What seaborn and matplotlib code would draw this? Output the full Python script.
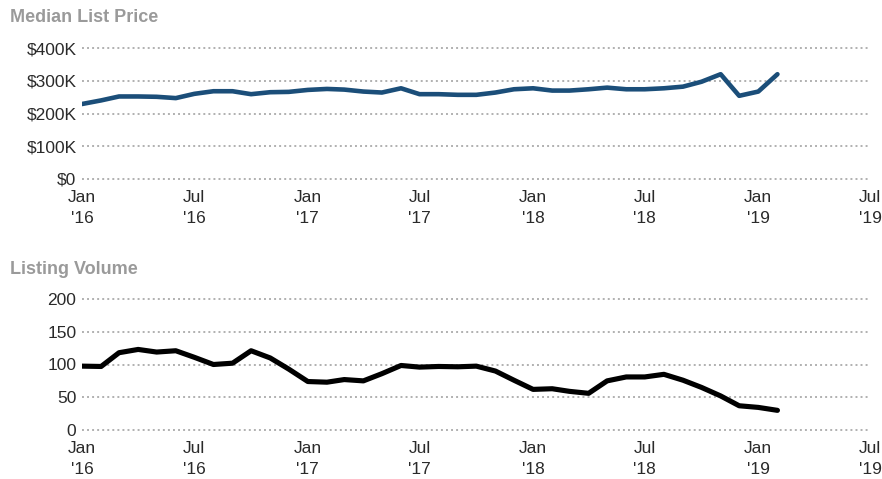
import matplotlib
matplotlib.use("Agg")
import matplotlib.pyplot as plt
import seaborn as sns
import pandas as pd

sns.set_style("white")
plt.rcParams['font.family'] = ['Liberation Sans', 'DejaVu Sans']

months = pd.date_range("2016-01-01", "2019-02-01", freq="MS")

median_list_price = [229, 240, 252, 252, 251, 247, 260, 268, 268, 259, 265, 266,
                     272, 275, 273, 267, 264, 277, 259, 259, 257, 257, 264, 274,
                     277, 270, 270, 274, 279, 274, 274, 277, 282, 297, 320, 254,
                     267, 320]  # thousands of dollars

listing_volume = [97.5, 97, 118, 123, 119, 121, 111, 100, 102, 121, 110, 93,
                  74, 73, 77, 75, 86, 98.5, 96, 97, 96.5, 97.5, 90, 76,
                  62, 63, 59, 56, 75, 81, 81, 85, 76, 65, 52, 37, 34.5, 30]

price_ticks = [0, 100, 200, 300, 400]
price_labels = ["$0", "$100K", "$200K", "$300K", "$400K"]
volume_ticks = [0, 50, 100, 150, 200]
x_tick_dates = pd.to_datetime(["2016-01-01", "2016-07-01", "2017-01-01", "2017-07-01",
                               "2018-01-01", "2018-07-01", "2019-01-01", "2019-07-01"])
x_tick_labels = ["Jan\n'16", "Jul\n'16", "Jan\n'17", "Jul\n'17",
                 "Jan\n'18", "Jul\n'18", "Jan\n'19", "Jul\n'19"]

df = pd.DataFrame({"month": months,
                   "price": median_list_price,
                   "volume": listing_volume})

fig = plt.figure(figsize=(8.82, 4.79), dpi=100)
ax1 = fig.add_axes([82/882, 1-179/479, (870-82)/882, 131/479])
ax2 = fig.add_axes([82/882, 1-430/479, (870-82)/882, 131/479])

tick_color = "#2a2a2a"
grid_color = "#b0b0b0"

sns.lineplot(data=df, x="month", y="price", ax=ax1, color="#1b4e79", linewidth=3.3)
sns.lineplot(data=df, x="month", y="volume", ax=ax2, color="#000000", linewidth=3.7)

for ax, ticks, labels, ymax in [(ax1, price_ticks, price_labels, 400),
                                (ax2, volume_ticks, [str(v) for v in volume_ticks], 200)]:
    ax.set_xlim(pd.Timestamp("2016-01-01"), pd.Timestamp("2019-07-01"))
    ax.set_ylim(0, ymax)
    ax.set_yticks(ticks)
    ax.set_yticklabels(labels)
    ax.set_xticks(x_tick_dates)
    ax.set_xticklabels(x_tick_labels, linespacing=1.45)
    ax.set_xlabel("")
    ax.set_ylabel("")
    for s in ax.spines.values():
        s.set_visible(False)
    ax.grid(axis="y", color=grid_color, linestyle=(0, (1, 1.6)), linewidth=1.4)
    ax.grid(axis="x", visible=False)
    ax.set_axisbelow(True)
    ax.tick_params(axis="both", length=0, labelsize=12.5, colors=tick_color)
    ax.tick_params(axis="y", pad=4)
    ax.tick_params(axis="x", pad=8)
    ax.patch.set_alpha(0)
    for line in ax.get_ygridlines():
        line.set_clip_on(False)

fig.text(10/882, 1-18/479, "Median List Price", fontsize=13, fontweight="bold",
         color="#9a9a9a", ha="left", va="center")
fig.text(10/882, 1-269/479, "Listing Volume", fontsize=13, fontweight="bold",
         color="#9a9a9a", ha="left", va="center")

fig.savefig("out.png", dpi=100)
